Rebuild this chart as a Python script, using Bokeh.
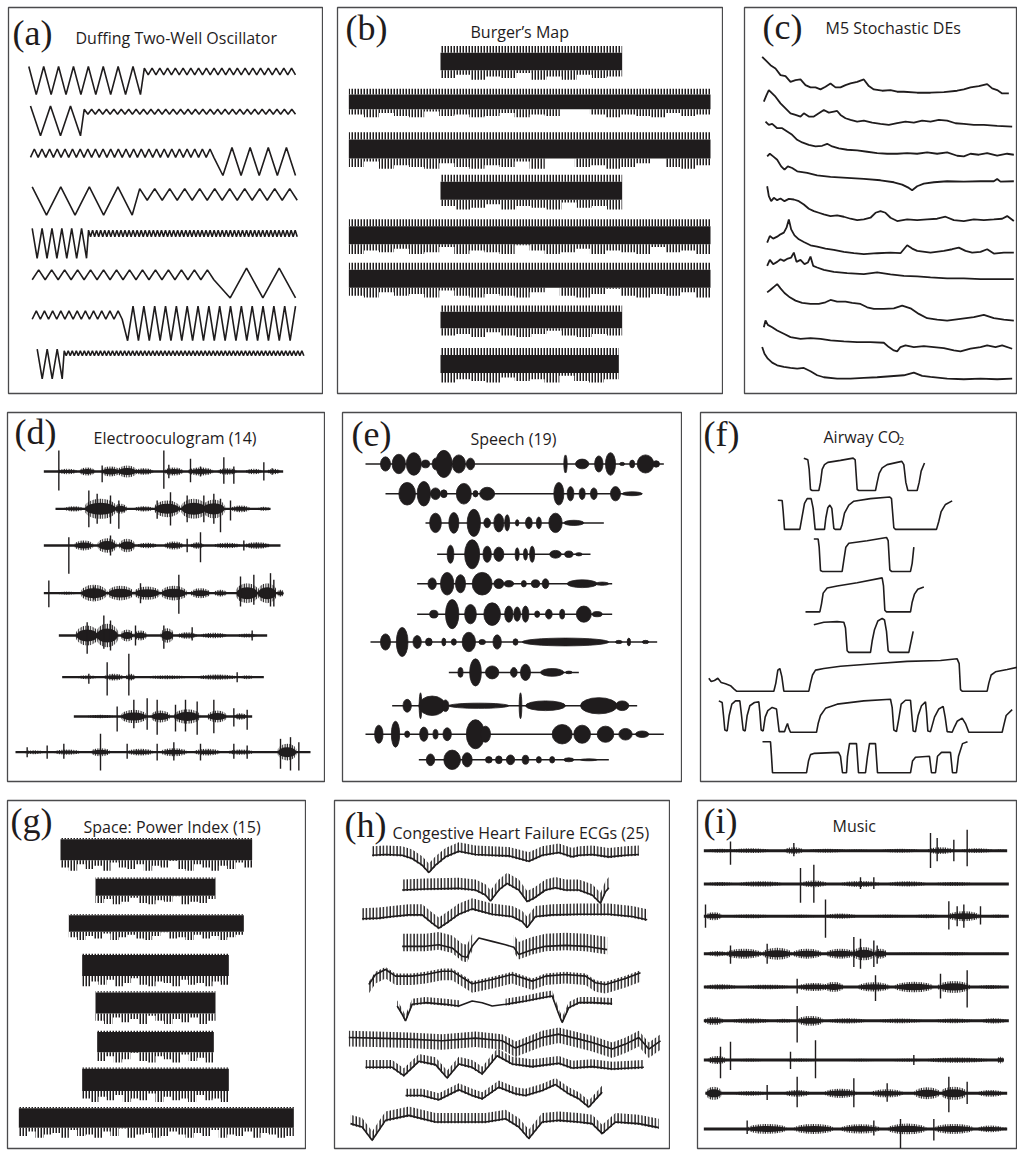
import numpy as np
from bokeh.plotting import figure
from bokeh.layouts import row, column
from bokeh.models import Range1d, Label
from bokeh.embed import file_html
from bokeh.resources import INLINE

INK = "#1f1c1d"
FRAME = "#4a4a4c"
SERIF = "Liberation Serif"
SANS = "Open Sans"

# ======================= DATA =======================
# (a) Duffing two-well oscillator: start value + regimes (n extrema, duration, level A, level B)
DUFF_START = [42, 45, 13, 43, 45, 10, 13, 45]
DUFF_SEGS = [
    [(15, 335, -43, 42), (40, 465, 37, 17)],
    [(5, 150, -45, 45), (58, 645, 35, 20)],
    [(48, 550, 38, 13), (9, 245, -42, 43)],
    [(7, 300, -42, 43), (22, 495, 38, 3)],
    [(11, 163, -45, 45), (104, 632, 40, 20)],
    [(28, 545, 40, 10), (5, 245, -45, 45)],
    [(22, 270, 38, 13), (32, 520, -52, 53)],
    [(5, 75, -45, 45), (120, 725, 40, 25)],
]

# (b) Burger's map: lower extremes of each run (fraction of band), band core levels
B_TOP = 1.0
B_CORE = (0.80, 0.28)
B_LO = [
    [0.05, 0.15, 0.0, 0.1, 0.05, 0.2, 0.0, 0.1, 0.0, 0.15, 0.05, 0.1],
    [0.1, 0.0, 0.15, 0.05, 0.0, 0.2, 0.05, 0.1, 0.0, 0.05, 0.15, 0.0, 0.1, 0.05, 0.28, 0.28, 0.1, 0.0, 0.1, 0.05, 0.0, 0.15, 0.05, 0.1],
    [0.05, 0.2, 0.0, 0.1, 0.05, 0.0, 0.15, 0.05, 0.0, 0.1, 0.05, 0.2, 0.0, 0.28, 0.28, 0.05, 0.1, 0.0, 0.05, 0.15, 0.28, 0.05, 0.0, 0.1],
    [0.1, 0.0, 0.05, 0.15, 0.0, 0.1, 0.05, 0.0, 0.2, 0.05, 0.1, 0.0],
    [0.0, 0.1, 0.05, 0.15, 0.0, 0.05, 0.2, 0.0, 0.1, 0.05, 0.0, 0.25, 0.1, 0.0, 0.05, 0.15, 0.0, 0.1, 0.05, 0.0, 0.2, 0.05, 0.1, 0.0],
    [0.05, 0.0, 0.15, 0.05, 0.1, 0.0, 0.2, 0.05, 0.0, 0.1, 0.05, 0.0, 0.15, 0.28, 0.05, 0.0, 0.1, 0.25, 0.05, 0.0, 0.1, 0.05, 0.15, 0.0],
    [0.05, 0.1, 0.0, 0.15, 0.05, 0.0, 0.1, 0.2, 0.05, 0.0, 0.1, 0.05],
    [0.0, 0.1, 0.05, 0.0, 0.15, 0.05, 0.1, 0.0, 0.2, 0.05, 0.0, 0.1],
]

# (c) M5 stochastic DEs: (time, value) per trace
C_PTS = [
    [(0,110),(10,100),(25,85),(40,75),(55,55),(70,52),(85,35),(100,40),(115,42),(130,25),(145,18),(160,18),(175,12),(190,20),(205,30),(220,18),(235,18),(250,25),(265,30),(285,35),(305,42),(320,22),(335,12),(360,8),(385,10),(405,5),(425,5),(465,2),(505,2),(545,4),(585,8),(605,12),(625,18),(650,22),(675,28),(690,15),(705,10),(720,0),(740,0)],
    [(5,75),(13,95),(20,110),(30,100),(40,90),(55,70),(70,55),(85,40),(100,35),(115,30),(125,40),(140,30),(155,30),(170,40),(185,50),(200,42),(215,45),(225,47),(235,35),(250,25),(265,20),(285,15),(305,18),(330,12),(355,8),(380,5),(405,10),(430,15),(455,12),(480,18),(505,15),(530,20),(555,18),(580,10),(605,8),(635,5),(665,5),(705,2),(750,0)],
    [(10,100),(20,90),(30,93),(45,80),(60,80),(75,70),(90,60),(105,45),(120,37),(140,30),(160,25),(180,27),(195,33),(210,25),(230,19),(255,15),(285,13),(315,9),(345,5),(375,3),(405,3),(435,5),(465,3),(495,7),(525,3),(555,7),(585,-3),(605,-5),(625,3),(650,0),(675,5),(705,-3),(735,3),(755,0)],
    [(15,75),(23,83),(33,75),(45,65),(57,45),(67,35),(77,45),(90,40),(105,30),(135,25),(165,18),(205,13),(255,10),(305,7),(355,3),(395,-3),(420,-10),(440,-20),(450,-27),(465,-15),(485,-7),(515,-3),(555,0),(605,-1),(655,0),(695,0),(705,7),(715,-1),(755,0)],
    [(15,102),(20,72),(27,57),(35,67),(45,60),(55,65),(67,57),(80,64),(95,62),(110,57),(125,47),(140,34),(155,27),(170,22),(185,17),(205,12),(225,14),(245,10),(265,4),(285,0),(305,2),(325,7),(340,22),(355,27),(370,22),(385,7),(405,-3),(435,2),(465,0),(495,2),(525,4),(550,10),(575,0),(605,-3),(635,2),(665,0),(695,2),(720,4),(735,12),(755,-3)],
    [(15,30),(23,50),(33,42),(45,48),(55,55),(65,60),(73,75),(80,100),(87,70),(97,52),(110,40),(125,32),(145,22),(165,18),(190,12),(215,8),(245,2),(275,-2),(305,-5),(345,-2),(385,0),(415,-2),(435,22),(450,12),(465,5),(505,0),(545,5),(570,10),(590,15),(610,5),(630,0),(655,2),(675,10),(695,-3),(725,0),(755,0)],
    [(15,40),(23,58),(33,45),(45,52),(55,60),(65,55),(77,62),(87,65),(95,80),(103,52),(115,58),(127,45),(137,50),(145,68),(153,40),(165,35),(185,28),(215,22),(255,18),(305,15),(345,20),(385,14),(425,10),(465,8),(505,5),(555,2),(605,2),(655,0),(705,0),(755,0)],
    [(15,82),(25,90),(37,100),(45,107),(55,94),(67,80),(83,67),(100,57),(120,50),(145,47),(170,47),(190,52),(205,59),(225,54),(250,54),(270,50),(295,47),(315,37),(335,32),(365,32),(395,34),(420,42),(445,34),(470,17),(495,4),(525,0),(555,-3),(595,2),(635,7),(665,14),(695,4),(725,0),(755,-3)],
    [(5,60),(10,80),(17,67),(30,60),(45,50),(65,40),(85,30),(115,25),(145,27),(175,25),(205,20),(245,17),(285,15),(325,15),(365,13),(380,0),(395,-10),(405,-13),(415,0),(430,5),(455,0),(485,3),(515,0),(545,-3),(575,-10),(595,-13),(625,-5),(655,0),(675,5),(700,0),(720,5),(750,-5)],
    [(0,95),(7,75),(17,60),(30,48),(45,40),(65,35),(85,32),(105,30),(125,32),(145,22),(165,10),(185,4),(225,0),(265,0),(305,2),(345,4),(385,7),(425,10),(455,18),(480,8),(505,5),(555,0),(605,-2),(655,0),(705,-2),(750,0)],
]

# (d) Electrooculogram: bursts (time, duration, half-amplitude) and spikes (time, up, down)
D_BLOBS = [
    [(200,60,8),(260,50,12),(330,60,15),(380,60,18),(430,60,10),(520,60,12),(600,80,12),(680,60,10),(760,50,8),(820,40,8)],
    [(220,60,8),(300,100,30),(360,40,15),(430,60,8),(500,80,25),(580,80,30),(640,70,28),(720,60,10),(790,40,6)],
    [(250,60,15),(320,60,22),(380,50,20),(440,60,8),(520,60,12),(590,40,10),(680,80,8),(770,80,10)],
    [(200,60,5),(280,80,25),(360,80,22),(440,80,20),(520,80,22),(600,60,15),(660,40,10),(740,70,30),(800,60,30),(840,20,10)],
    [(260,70,30),(320,70,35),(380,40,18),(420,40,15),(500,40,22),(560,60,10),(640,80,8),(740,60,6)],
    [(260,60,6),(340,60,10),(390,30,10),(500,120,6),(650,120,8),(740,40,6)],
    [(300,80,5),(400,80,20),(480,60,18),(560,80,22),(650,60,18),(720,40,10)],
    [(100,60,6),(200,80,8),(300,60,12),(420,80,10),(520,80,12),(620,80,10),(720,80,8),(860,60,25)],
]
D_SPIKES = [
    [(175,63,57),(305,18,32),(490,63,52),(505,20,20),(570,38,32),(600,15,15),(670,43,37),(700,15,37),(790,28,27),(815,10,10)],
    [(265,55,55),(290,45,45),(330,40,45),(355,25,60),(470,25,30),(510,50,50),(560,40,40),(610,40,40),(640,45,45),(660,30,70),(690,25,35)],
    [(205,25,85),(330,30,30),(560,20,20),(600,40,50),(730,15,15)],
    [(145,38,42),(280,20,20),(420,30,30),(535,55,62),(720,50,40),(760,55,35),(810,60,40),(820,40,40)],
    [(260,40,55),(310,60,40),(330,45,45),(405,30,30),(490,30,40),(575,25,15),(755,15,15)],
    [(265,10,20),(320,45,55),(385,70,55),(710,15,15)],
    [(350,30,45),(400,50,35),(440,55,40),(470,50,55),(525,35,45),(555,50,45),(590,45,55),(640,50,50),(700,25,30),(740,20,40)],
    [(80,15,15),(140,20,20),(190,25,20),(300,55,55),(380,25,20),(470,25,25),(520,30,25),(600,25,25),(700,25,20),(740,20,20),(840,40,50),(870,45,55),(895,30,55)],
]

# (e) Speech: syllable bursts (time, duration, half-amplitude)
E_BLOBS = [
    [(150,30,22),(190,40,30),(235,45,35),(270,25,12),(300,20,18),(325,50,42),(370,40,28),(405,25,18),(690,10,28),(740,40,15),(790,25,25),(825,30,35),(860,15,5),(890,15,12),(930,50,28),(962,20,10)],
    [(215,50,35),(265,40,38),(300,30,18),(325,20,12),(385,45,32),(420,15,10),(455,45,20),(670,30,35),(705,20,22),(740,18,18),(775,20,18),(840,30,22),(890,60,6)],
    [(300,35,30),(355,30,32),(415,40,42),(455,20,15),(490,30,28),(515,15,25),(545,10,10),(580,20,18),(610,15,18),(660,40,30),(715,60,8)],
    [(345,20,28),(410,45,45),(455,25,25),(490,30,22),(545,12,20),(570,12,18),(590,15,25),(660,35,12),(700,25,10),(730,20,5)],
    [(290,25,18),(335,40,35),(375,30,28),(440,60,35),(490,30,15),(520,30,10),(565,15,10),(600,25,12),(630,20,15),(740,90,12),(800,40,5)],
    [(295,25,12),(350,40,45),(405,35,30),(470,50,35),(520,25,25),(545,20,22),(570,20,25),(605,15,10),(640,20,15),(680,15,15),(745,45,25),(785,30,8)],
    [(150,30,25),(200,35,45),(245,25,20),(280,20,12),(325,12,12),(355,15,10),(400,40,30),(440,20,8),(485,25,22),(540,15,10),(690,260,12),(850,20,5),(880,10,12),(930,20,5)],
    [(375,15,15),(420,35,42),(470,40,20),(535,20,15),(570,30,25),(650,70,12),(700,20,4)],
    [(215,25,20),(255,8,40),(290,80,30),(330,20,18),(430,180,8),(555,8,40),(630,120,15),(790,110,25),(860,40,15)],
    [(130,25,28),(180,25,40),(215,15,10),(265,25,22),(300,15,15),(335,25,20),(420,55,45),(450,30,25),(680,60,30),(740,50,28),(810,50,25),(870,40,18),(920,40,10)],
    [(285,25,18),(350,50,30),(395,30,22),(460,20,10),(490,20,12),(525,25,15),(570,20,14),(610,15,10),(650,15,10),(700,30,6),(760,50,3)],
]

# (f) Airway CO2: (time, level above the floor)
F_PTS = [
    [(290,100),(302,95),(306,65),(310,3),(315,0),(335,0),(340,25),(345,65),(352,80),(362,87),(400,93),(438,100),(444,95),(450,3),(455,0),(505,0),(510,25),(516,53),(525,70),(540,80),(570,87),(584,90),(590,80),(596,25),(602,0),(630,0),(636,25),(642,60),(652,85)],
    [(212,90),(225,89),(228,55),(232,0),(278,0),(284,35),(292,80),(300,95),(312,95),(318,65),(324,0),(352,0),(356,35),(362,67),(368,75),(374,65),(380,3),(384,0),(400,0),(405,15),(412,50),(425,75),(440,87),(490,95),(548,100),(553,95),(560,5),(565,0),(688,0),(695,25),(702,55),(715,77),(735,88)],
    [(320,100),(333,100),(336,75),(340,3),(345,0),(405,0),(410,35),(416,75),(425,87),(480,95),(538,105),(543,95),(548,5),(553,0),(610,0),(615,25),(620,75)],
    [(295,0),(338,0),(343,25),(348,58),(360,74),(390,80),(450,90),(525,105),(529,80),(533,5),(538,0),(610,0),(615,30),(622,55),(632,70),(650,77)],
    [(320,85),(350,93),(390,95),(410,93),(415,75),(420,5),(425,0),(490,0),(495,35),(502,70),(512,97),(525,105),(532,100),(538,65),(543,5),(548,0),(605,0),(610,25),(618,65)],
    [(5,40),(12,30),(22,33),(32,40),(42,27),(55,23),(70,17),(80,7),(88,0),(200,0),(206,25),(212,65),(218,70),(224,45),(230,0),(305,0),(310,25),(316,50),(325,65),(350,70),(400,77),(500,85),(600,92),(700,95),(750,100),(756,85),(760,5),(765,0),(840,0),(845,25),(852,50),(865,60),(900,67),(935,75)],
    [(35,97),(45,92),(49,52),(53,7),(60,4),(66,52),(74,87),(85,97),(98,97),(102,62),(108,7),(114,4),(120,52),(128,82),(142,92),(155,94),(158,62),(162,7),(168,4),(174,47),(182,67),(195,77),(208,72),(212,37),(216,2),(232,2),(237,17),(241,27),(245,12),(250,0),(328,0),(333,27),(340,52),(355,74),(390,87),(470,97),(550,102),(555,77),(560,7),(568,2),(575,42),(582,87),(595,99),(610,99),(614,52),(618,4),(625,2),(633,52),(643,82),(655,94),(658,62),(662,4),(670,2),(682,47),(695,72),(708,80),(714,47),(720,2),(735,0),(742,17),(750,34),(765,44),(775,27),(785,0),(885,0),(890,22),(897,52),(915,70)],
    [(166,96),(190,96),(193,51),(196,0),(298,0),(304,36),(310,56),(322,60),(394,63),(400,51),(406,0),(418,0),(421,51),(427,90),(448,90),(454,0),(475,0),(481,51),(487,90),(505,90),(511,0),(610,0),(616,36),(625,48),(667,51),(673,0),(685,0),(691,51),(703,63),(730,63),(736,0),(748,0),(754,51),(766,90),(781,96)],
]

# (g) Space power index: lower extremes of each run (fraction of band), band core levels
G_TOP = 1.0
G_CORE = (0.96, 0.32)
G_LO = [
    [0.1, 0.0, 0.2, 0.05, 0.15, 0.0, 0.25, 0.1, 0.05, 0.2, 0.0, 0.15, 0.1, 0.3, 0.05, 0.0, 0.2, 0.1, 0.0, 0.15, 0.05, 0.25, 0.1],
    [0.05, 0.2, 0.0, 0.1, 0.25, 0.05, 0.0, 0.15, 0.1, 0.3, 0.0, 0.1, 0.05, 0.2],
    [0.1, 0.0, 0.15, 0.05, 0.25, 0.0, 0.1, 0.2, 0.05, 0.0, 0.15, 0.3, 0.05, 0.1, 0.0, 0.2, 0.05, 0.15, 0.0, 0.1, 0.2],
    [0.0, 0.15, 0.05, 0.2, 0.0, 0.1, 0.25, 0.05, 0.0, 0.15, 0.1, 0.0, 0.2, 0.05, 0.1, 0.0, 0.15, 0.05],
    [0.1, 0.0, 0.2, 0.05, 0.15, 0.0, 0.25, 0.1, 0.0, 0.15, 0.05, 0.2, 0.0, 0.1],
    [0.05, 0.2, 0.0, 0.1, 0.3, 0.05, 0.0, 0.2, 0.1, 0.0, 0.25, 0.05, 0.15, 0.0],
    [0.1, 0.0, 0.15, 0.05, 0.2, 0.0, 0.1, 0.05, 0.25, 0.0, 0.15, 0.05, 0.1, 0.0, 0.2, 0.05, 0.1, 0.0],
    [0.05, 0.2, 0.0, 0.1, 0.15, 0.0, 0.25, 0.05, 0.1, 0.0, 0.2, 0.05, 0.3, 0.0, 0.1, 0.15, 0.0, 0.05, 0.2, 0.1, 0.0, 0.15, 0.05, 0.25, 0.0, 0.1, 0.05, 0.2, 0.0, 0.15, 0.1, 0.0, 0.05],
]

# (h) Congestive heart failure ECGs: baseline (time, value), beat height up/down, beat-free intervals
H_PTS = [
    [(140,0),(180,2),(230,0),(260,-10),(290,-30),(310,-52),(330,-30),(360,-5),(400,12),(450,2),(500,0),(550,-2),(580,-10),(610,-18),(650,0),(700,8),(740,-5),(760,0),(800,2),(850,-5),(900,0),(940,2)],
    [(230,0),(300,3),(400,5),(450,0),(480,-15),(495,-33),(520,0),(545,20),(580,0),(605,-35),(625,-25),(660,0),(690,7),(720,0),(760,0),(800,-15),(825,-40),(840,-5),(850,7)],
    [(110,-7),(160,-5),(200,0),(250,5),(290,5),(320,-20),(340,-35),(370,-15),(400,7),(440,23),(500,7),(560,0),(590,-15),(605,-33),(630,0),(680,5),(760,7),(850,7),(920,0),(965,-10)],
    [(230,0),(300,0),(340,5),(380,-5),(410,-30),(425,-33),(440,0),(460,25),(500,15),(540,5),(565,-3),(580,-25),(620,-10),(660,0),(720,3),(780,0),(845,-10)],
    [(130,-25),(150,5),(180,20),(210,0),(260,0),(300,5),(350,15),(380,15),(420,-10),(440,-23),(500,-10),(560,5),(620,-15),(660,0),(720,5),(780,0),(810,-20),(840,-25),(900,-7),(945,10)],
    [(215,-5),(230,-30),(240,-50),(260,0),(300,5),(360,0),(400,-5),(440,10),(470,5),(500,-5),(540,0),(600,10),(650,20),(680,25),(700,-30),(710,-55),(730,-10),(760,5),(800,5),(860,2)],
    [(70,5),(150,3),(250,0),(350,-5),(450,3),(530,-5),(570,-27),(600,-15),(650,5),(700,15),(760,0),(800,-10),(860,-30),(900,-15),(940,5),(970,-30),(1005,-5)],
    [(120,0),(200,0),(235,-25),(280,18),(330,8),(365,-32),(400,10),(440,0),(470,-20),(515,35),(560,10),(620,2),(700,12),(740,-2),(800,2),(860,-5),(955,0)],
    [(240,0),(290,0),(340,-13),(400,17),(440,0),(470,-10),(520,25),(570,5),(600,0),(650,15),(690,33),(730,5),(760,-10),(790,-35),(830,10)],
    [(75,5),(110,-5),(140,-45),(180,15),(250,30),(330,10),(400,10),(480,10),(540,20),(580,-5),(610,-40),(650,10),(700,15),(760,10),(800,5),(830,-25),(870,10),(940,5),(1000,-7)],
]
H_BEAT = [(27,4),(32,4),(32,4),(38,15),(8,27),(17,4),(20,27),(22,4),(20,4),(27,4)]
H_QUIET = {3: (450, 565), 5: (435, 505)}

# (i) Music: bursts (time, duration, half-amplitude) and transients (time, up, down)
I_BLOBS = [
    [(60,80,6),(150,120,7),(280,60,10),(380,120,6),(470,80,4),(600,120,6),(720,80,10),(830,100,7),(900,40,4)],
    [(60,80,6),(180,140,8),(340,80,10),(480,120,9),(620,120,8),(760,120,6),(870,100,3)],
    [(40,50,12),(150,120,6),(300,100,5),(420,100,8),(560,120,5),(680,80,6),(790,100,15),(890,60,5)],
    [(50,60,8),(130,110,15),(230,90,18),(320,90,15),(420,90,15),(490,70,20),(540,40,15),(640,120,4),(760,100,5),(880,80,3)],
    [(60,100,8),(200,140,7),(340,100,12),(400,60,15),(520,100,14),(640,120,16),(760,100,18),(870,80,6)],
    [(40,60,12),(150,120,8),(250,60,6),(330,80,15),(440,120,8),(600,140,7),(760,120,7),(880,80,8)],
    [(50,60,12),(150,80,5),(300,100,5),(480,120,4),(620,100,5),(770,200,8),(900,20,10)],
    [(40,50,20),(150,100,7),(290,80,10),(420,100,14),(560,100,12),(680,80,18),(760,80,20),(870,80,10)],
    [(200,120,15),(340,120,15),(480,120,14),(620,120,16),(760,120,15),(870,80,10),(910,20,4)],
]
I_SPIKES = [
    [(90,28,42),(280,23,17),(690,53,52),(710,38,32),(760,33,32),(800,63,47)],
    [(300,48,57),(340,58,57),(480,20,15),(520,20,15)],
    [(15,35,35),(375,50,65),(745,45,40),(770,30,30),(790,35,35),(840,30,25)],
    [(90,25,30),(200,30,30),(460,50,40),(480,45,45),(520,40,40),(530,25,30)],
    [(290,25,20),(525,35,42),(720,40,35),(800,50,62)],
    [(290,45,65)],
    [(60,40,55),(90,55,30),(270,25,27),(345,60,55),(640,15,15)],
    [(200,25,20),(290,50,42),(460,45,42),(560,30,25),(745,50,57),(800,35,32)],
    [(140,25,15),(520,25,20),(600,30,60),(700,30,35)],
]

TITLES = {
    "a": "Duffing Two-Well Oscillator", "b": "Burger\u2019s Map", "c": "M5 Stochastic DEs",
    "d": "Electrooculogram (14)", "e": "Speech (19)", "f": "Airway CO",
    "g": "Space: Power Index (15)", "h": "Congestive Heart Failure ECGs (25)", "i": "Music",
}

# ======================= LAYOUT (reference pixel frame; page has no margin) =======================
PAGE_H = 1152
def X(x): return int(round(x))
def Y(y): return int(round(min(y, PAGE_H)))

PANEL_ROWS = [
    (0, 395, [("a", (8, 4, 323, 393)), ("b", (337, 4, 723, 394)), ("c", (744, 7, 1017, 395))]),
    (395, 786, [("d", (7, 412, 325, 781)), ("e", (342, 406, 682, 786)), ("f", (700, 406, 1017, 786))]),
    (786, 1152, [("g", (7, 800, 306, 1152)), ("h", (334, 800, 670, 1150)), ("i", (697, 799, 1017, 1148))]),
]
# letter (x, middle y), title (x, baseline y)
TITLE_POS = {
    "a": (12, 30, 75, 35), "b": (345, 25, 470, 29), "c": (762, 27, 825, 28),
    "d": (14, 431, 93, 437), "e": (351, 428, 470, 433), "f": (703, 428, 823, 431),
    "g": (10, 821, 83, 827), "h": (344, 825, 392, 833), "i": (703, 820, 832, 825),
}
U = 1 / 3.0  # data unit -> reference px

DUFF_X0 = [28.3, 30, 30, 31.7, 31.7, 31.7, 31.7, 36.7]
DUFF_Y0 = [77.5, 118.3, 159.3, 199.2, 241.7, 281.7, 322.5, 363.3]
B_X0 = 330
B_SPAN = [(330, 875), (55, 1140), (55, 1140), (330, 875), (55, 1140), (55, 1140), (330, 875), (330, 865)]
B_ROWS_Y = [(43, 77), (86, 115), (130, 167), (173, 208), (218, 253), (262, 297), (305, 337), (348, 383)]
C_X0 = 730 + 95 / 3.0
C_BASE = [280, 380, 465, 545, 662, 760, 840, 962, 1045, 1140]
D_X0, D_Y0 = 0, 400
D_BASE = [213, 325, 435, 578, 705, 830, 948, 1055]
D_SPAN = [(130, 848), (165, 810), (130, 840), (130, 848), (175, 800), (185, 790), (220, 755), (45, 930)]
E_X0, E_Y0 = 335, 398
E_BASE = [183, 275, 365, 462, 553, 647, 733, 827, 930, 1018, 1097]
E_SPAN = [(90, 985), (150, 920), (270, 805), (305, 765), (245, 830), (245, 830), (105, 965), (340, 730), (170, 905), (90, 985), (250, 820)]
F_X0, F_Y0 = 690 + 50 / 3.0, 398
F_BOT = [265, 385, 515, 640, 765, 885, 1012, 1137]
G_X0 = 0
G_SPAN = [(180, 755), (285, 645), (205, 730), (245, 685), (285, 645), (290, 640), (245, 685), (55, 880)]
G_ROWS_Y = [(838, 871), (878, 905), (915, 941), (955, 988), (993, 1026), (1033, 1065), (1070, 1105), (1110, 1141)]
H_X0, H_Y0 = 325, 775
H_BASE = [240, 345, 425, 515, 605, 690, 795, 880, 965, 1055]
I_X0, I_Y0 = 700, 770
I_BASE = [238, 338, 435, 548, 648, 750, 868, 968, 1075]
I_SPAN = [(10, 920), (10, 925), (10, 925), (10, 925), (10, 925), (10, 925), (10, 910), (15, 920), (10, 920)]

HATCH = dict(fill_color=None, hatch_pattern="|", hatch_color=INK, hatch_scale=3, hatch_weight=2.0)
BURST_HATCH = dict(fill_color=None, hatch_pattern="|", hatch_color=INK, hatch_scale=2.4, hatch_weight=1.8,
                   line_color=None)


def zigzag(v0, segs):
    t, v = [0.0], [float(v0)]
    for n, dur, first, second in segs:
        t0 = t[-1]
        for k in range(1, n + 1):
            t.append(t0 + dur * k / n)
            v.append(first if k % 2 == 1 else second)
    return np.array(t), np.array(v)


def draw_a(p):
    for k in range(len(DUFF_START)):
        t, v = zigzag(DUFF_START[k], DUFF_SEGS[k])
        p.line(DUFF_X0[k] + t * U, DUFF_Y0[k] - v * U, line_color=INK, line_width=1.6)


def draw_band(p, x0, spans, rows_y, lows, top, core):
    for k, lo in enumerate(lows):
        lo = np.array(lo, dtype=float)
        n = len(lo)
        a, b = spans[k]
        ytop, ybot = rows_y[k]
        xs = x0 + np.linspace(a, b, n + 1) * U
        def yv(val):
            return ybot - np.asarray(val, dtype=float) * (ybot - ytop)
        lo_e = np.append(lo, lo[-1])
        ones = np.ones(n + 1)
        p.varea_step(x=xs, y1=yv(ones * core[1]), y2=yv(ones * core[0]), step_mode="after", fill_color=INK)
        p.varea_step(x=xs, y1=yv(lo_e), y2=yv(ones * core[1]), step_mode="after", **HATCH)
        p.varea_step(x=xs, y1=yv(ones * core[0]), y2=yv(ones * top), step_mode="after", **HATCH)


def draw_b(p):
    draw_band(p, B_X0, B_SPAN, B_ROWS_Y, B_LO, B_TOP, B_CORE)


def draw_c(p):
    for pts, base in zip(C_PTS, C_BASE):
        t = np.array([q[0] for q in pts], float)
        v = np.array([q[1] for q in pts], float)
        p.line(C_X0 + t * U, (base - v) * U, line_color=INK, line_width=1.8)


def draw_bursts(p, x0, y0, bases, spans, blobs, spikes, lw, textured):
    for k in range(len(bases)):
        y = y0 + bases[k] * U
        a, b = spans[k]
        p.line([x0 + a * U, x0 + b * U], [y, y], line_color=INK, line_width=lw)
        bl = blobs[k]
        if bl:
            bx = [x0 + q[0] * U for q in bl]
            bw = [q[1] * U for q in bl]
            bh = [2 * q[2] * U for q in bl]
            if textured:
                p.ellipse(x=bx, y=y, width=bw, height=bh, **BURST_HATCH)
                p.ellipse(x=bx, y=y, width=[w * 0.92 for w in bw], height=[h * 0.6 for h in bh],
                          fill_color=INK, line_color=None)
            else:
                p.ellipse(x=bx, y=y, width=bw, height=bh, fill_color=INK, line_color=INK, line_width=0.8)
        if spikes is not None and spikes[k]:
            sp = spikes[k]
            xs = [x0 + q[0] * U for q in sp]
            p.segment(x0=xs, y0=[y - q[1] * U for q in sp], x1=xs, y1=[y + q[2] * U for q in sp],
                      line_color=INK, line_width=1.4)


def draw_d(p):
    draw_bursts(p, D_X0, D_Y0, D_BASE, D_SPAN, D_BLOBS, D_SPIKES, 2.4, True)


def draw_e(p):
    draw_bursts(p, E_X0, E_Y0, E_BASE, E_SPAN, E_BLOBS, None, 1.5, False)


def draw_f(p):
    for pts, bot in zip(F_PTS, F_BOT):
        t = np.array([q[0] for q in pts], float)
        v = np.array([q[1] for q in pts], float)
        p.line(F_X0 + t * U, F_Y0 + (bot - v) * U, line_color=INK, line_width=1.6)


def draw_g(p):
    draw_band(p, G_X0, G_SPAN, G_ROWS_Y, G_LO, G_TOP, G_CORE)


def draw_h(p):
    for k, pts in enumerate(H_PTS):
        t = np.array([q[0] for q in pts], float)
        v = np.array([q[1] for q in pts], float)
        x = H_X0 + t * U
        y = H_Y0 + (H_BASE[k] - v) * U
        up, dn = H_BEAT[k]
        if k in H_QUIET:
            q0, q1 = H_QUIET[k]
            parts = [t <= q0, t >= q1]
        else:
            parts = [np.ones(len(t), bool)]
        for m in parts:
            p.varea(x=x[m], y1=y[m] - up * U, y2=y[m] + dn * U, fill_color=None, hatch_pattern="|",
                    hatch_color=INK, hatch_scale=3.4, hatch_weight=1.4)
        p.line(x, y, line_color=INK, line_width=1.6)


def draw_i(p):
    draw_bursts(p, I_X0, I_Y0, I_BASE, I_SPAN, I_BLOBS, I_SPIKES, 3.0, True)


DRAW = dict(a=draw_a, b=draw_b, c=draw_c, d=draw_d, e=draw_e, f=draw_f, g=draw_g, h=draw_h, i=draw_i)


def make_fig(box, prev, rt, rb):
    x0, y0, x1, y1 = box
    p = figure(width=X(x1) - prev, height=rb - rt,
               x_range=Range1d(x0, x1), y_range=Range1d(y1, y0),
               x_axis_type=None, y_axis_type=None, toolbar_location=None, output_backend="svg",
               min_border_left=X(x0) - prev, min_border_right=0,
               min_border_top=Y(y0) - rt, min_border_bottom=rb - Y(y1))
    p.outline_line_color = FRAME
    p.outline_line_width = 1.3
    p.background_fill_color = "white"
    p.border_fill_color = "white"
    return p


def add_titles(p, key):
    lx, ly, tx, ty = TITLE_POS[key]
    p.add_layout(Label(x=lx, y=ly, text="(%s)" % key, text_font=SERIF, text_font_size="36px",
                       text_color=INK, text_baseline="middle", text_align="left"))
    p.add_layout(Label(x=tx, y=ty, text=TITLES[key], text_font=SANS, text_font_size="16px",
                       text_color=INK, text_baseline="alphabetic", text_align="left"))
    if key == "f":
        p.add_layout(Label(x=tx + 75, y=ty + 4, text="2", text_font=SANS, text_font_size="10px",
                           text_color=INK, text_baseline="alphabetic", text_align="left"))


rows = []
for rt_ref, rb_ref, panels in PANEL_ROWS:
    rt, rb = Y(rt_ref), Y(rb_ref)
    prev = 0
    kids = []
    for key, box in panels:
        p = make_fig(box, prev, rt, rb)
        prev = X(box[2])
        DRAW[key](p)
        add_titles(p, key)
        kids.append(p)
    rows.append(row(*kids))

layout = column(*rows)
open("out.html", "w").write(file_html(layout, INLINE, title="Time series examples"))
